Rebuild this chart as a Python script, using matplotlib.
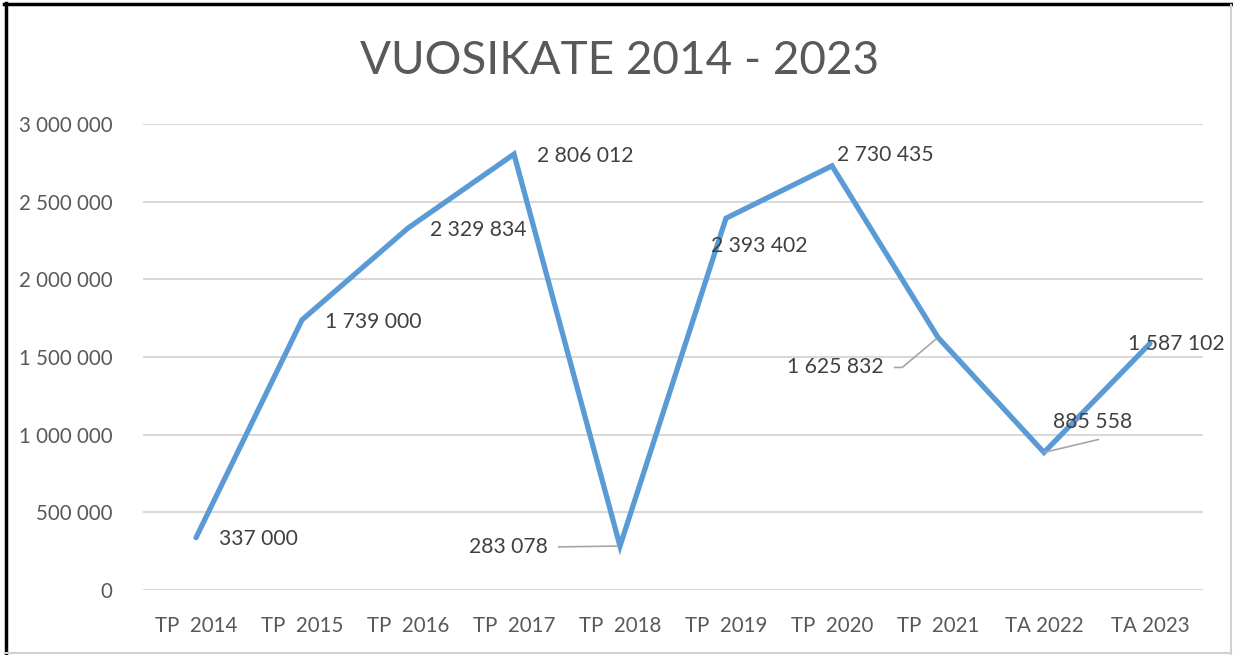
import matplotlib.pyplot as plt
from matplotlib.lines import Line2D

# data
years = ["TP  2014", "TP  2015", "TP  2016", "TP  2017", "TP  2018",
         "TP  2019", "TP  2020", "TP  2021", "TA 2022", "TA 2023"]
vuosikate = [337000, 1739000, 2329834, 2806012, 283078,
             2393402, 2730435, 1625832, 885558, 1587102]
y_ticks = [0, 500000, 1000000, 1500000, 2000000, 2500000, 3000000]

# label offsets in pixels (dx, dy) from the point
offsets = [(62, -1), (71, -2), (70, -2), (71, -2), (-112, -1),
           (33, -28), (53, 11), (-103, -30), (49, 30), (26, -1)]


def fmt(v):
    return f"{v:,}".replace(",", " ")


plt.rcParams['font.family'] = ['Lato', 'DejaVu Sans']

fig = plt.figure(figsize=(12.33, 6.55), dpi=100)
ax = fig.add_axes([143 / 1233, 65 / 655, 1060 / 1233, 466 / 655])

x = list(range(len(years)))
ax.plot(x, vuosikate, color="#5B9BD5", lw=3.8, solid_capstyle="round",
        solid_joinstyle="miter", zorder=3)

ax.set_xlim(-0.5, len(years) - 0.5)
ax.set_ylim(0, 3000000)
ax.set_yticks(y_ticks)
ax.set_yticklabels([fmt(v) for v in y_ticks])
ax.set_xticks(x)
ax.set_xticklabels(years)
ax.tick_params(length=0, labelsize=14.8, colors="#595959")
ax.tick_params(axis="y", pad=22)
ax.tick_params(axis="x", pad=19)
ax.grid(axis="y", color="#D9D9D9", lw=1.5)
ax.set_axisbelow(True)
for s in ax.spines.values():
    s.set_visible(False)

for i, v in enumerate(vuosikate):
    dx, dy = offsets[i]
    kw = {}
    if i == 4:
        kw["arrowprops"] = dict(arrowstyle="-", color="#A6A6A6", lw=1.2,
                                relpos=(1, 0.5), shrinkA=6, shrinkB=2)
    elif i == 7:
        kw["arrowprops"] = dict(arrowstyle="-", color="#A6A6A6", lw=1.2,
                                relpos=(1, 0.5), shrinkA=6, shrinkB=2,
                                connectionstyle="angle,angleA=0,angleB=40,rad=0")
    elif i == 8:
        kw["arrowprops"] = dict(arrowstyle="-", color="#A6A6A6", lw=1.2,
                                relpos=(0.57, -0.35), shrinkA=0, shrinkB=0)
    ax.annotate(fmt(v), (i, v), xytext=(dx, dy), textcoords="offset pixels",
                ha="center", va="center", fontsize=15.2, color="#404040",
                zorder=4, **kw)

fig.text(620 / 1233, 1 - 61 / 655, "VUOSIKATE 2014 - 2023", ha="center",
         va="center", fontsize=33, color="#595959", fontweight="normal")

# frame around the chart
fig.add_artist(Line2D([4 / 1233, 1], [1 - 4 / 655, 1 - 4 / 655],
                      transform=fig.transFigure, color="black", lw=2.5))
fig.add_artist(Line2D([5.5 / 1233, 5.5 / 1233], [0, 1 - 3 / 655],
                      transform=fig.transFigure, color="black", lw=2.5))
fig.add_artist(Line2D([1231 / 1233, 1231 / 1233], [0, 1 - 5 / 655],
                      transform=fig.transFigure, color="#D0D0D0", lw=1.5))
fig.add_artist(Line2D([6 / 1233, 1231 / 1233], [2.5 / 655, 2.5 / 655],
                      transform=fig.transFigure, color="#D0D0D0", lw=1.5))

fig.savefig("out.png", dpi=100)
